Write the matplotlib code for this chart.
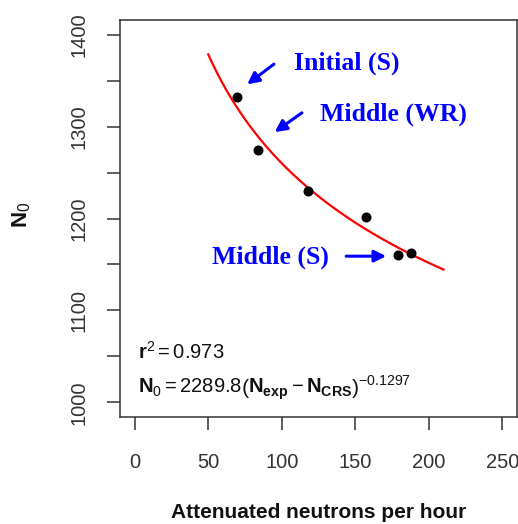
import numpy as np
import matplotlib
matplotlib.use("Agg")
import matplotlib.pyplot as plt

plt.rcParams['font.family'] = ['Liberation Sans', 'DejaVu Sans']
plt.rcParams['mathtext.fontset'] = 'custom'
plt.rcParams['mathtext.rm'] = 'Liberation Sans'
plt.rcParams['mathtext.it'] = 'Liberation Sans:italic'
plt.rcParams['mathtext.bf'] = 'Liberation Sans:bold'

# Data
x_points = [69.6, 84, 118, 157, 179, 188]
y_points = [1332.6, 1274, 1229.7, 1202, 1160, 1163]

# Fitted curve (equation printed on chart)
fit_A = 2289.8
fit_B = -0.1297
fit_ncrs = 0.0
fit_xmin, fit_xmax = 50, 210

x_ticks = [0, 50, 100, 150, 200, 250]
y_ticks = [1000, 1100, 1200, 1300, 1400]
y_minor = [1050, 1150, 1250, 1350]

labels = ["Initial (S)", "Middle (WR)", "Middle (S)"]
label_pos = [(108, 1361.6), (126, 1306.5), (52.5, 1150.7)]
arrow_from = [(94.7, 1368), (113.7, 1315), (143.8, 1159)]
arrow_to = [(76.5, 1346), (95.2, 1294), (171, 1159)]

W, H = 518, 524
fig = plt.figure(figsize=(W / 100, H / 100), dpi=100)
ax = fig.add_axes([120 / W, 1 - 417 / H, 397 / W, 397 / H])

ax.set_xlim(-10, 260)
ax.set_ylim(984, 1416)

xc = np.linspace(fit_xmin, fit_xmax, 200)
yc = fit_A * (xc - fit_ncrs) ** fit_B
ax.plot(xc, yc, color='#ff0000', lw=1.6, zorder=2)
ax.plot(x_points, y_points, 'o', color='black', ms=6.2, zorder=3)

for lab, (tx, ty), a, b in zip(labels, label_pos, arrow_from, arrow_to):
    ax.text(tx, ty, lab, color='#0000ff', fontsize=18.5, fontweight='bold',
            family=['Liberation Serif', 'DejaVu Serif'], ha='left', va='baseline')
    ax.annotate('', xy=b, xytext=a,
                arrowprops=dict(arrowstyle='-|>,head_length=0.7,head_width=0.35',
                                color='#0000ff', lw=2.2, shrinkA=0, shrinkB=0))

ax.text(2, 1047.8, r'$\mathbf{r}^2 = 0.973$', fontsize=14.5, ha='left', va='baseline', color='#111111')
ax.text(2, 1010, r'$\mathbf{N}_0 = 2289.8\left(\mathbf{N}_{\mathbf{exp}} - \mathbf{N}_{\mathbf{CRS}}\right)^{-0.1297}$',
        fontsize=14.5, ha='left', va='baseline', color='#111111')

for s in ax.spines.values():
    s.set_color('#333333')
    s.set_linewidth(1.1)

ax.set_xticks(x_ticks)
ax.set_xticklabels([str(v) for v in x_ticks], fontsize=14.5, color='#333333')
ax.set_yticks(y_ticks)
ax.set_yticklabels([str(v) for v in y_ticks], fontsize=14.5, color='#333333',
                   rotation=90, va='center')
ax.set_yticks(y_minor, minor=True)
ax.tick_params(axis='x', which='major', direction='out', length=9, width=1.1,
               color='#333333', pad=17)
ax.tick_params(axis='y', which='both', direction='out', length=9.5, width=1.1,
               color='#333333', pad=13)

fig.text(318.5 / W, 1 - 513 / H, 'Attenuated neutrons per hour', fontsize=15,
         fontweight='bold', ha='center', va='center', color='#111111')
fig.text(22 / W, 1 - 215 / H, r'$\mathbf{N}_0$', fontsize=16, rotation=90,
         ha='center', va='center', color='#111111')

fig.savefig('out.png', dpi=100, facecolor='white')
